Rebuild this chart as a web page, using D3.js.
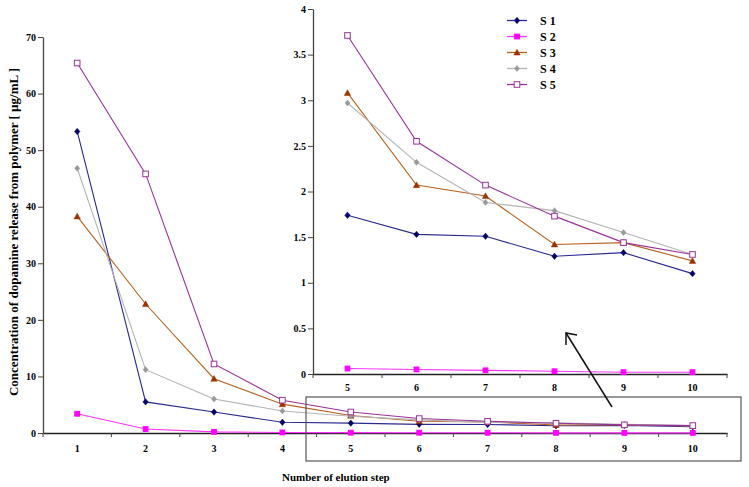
<!DOCTYPE html>
<html><head><meta charset="utf-8">
<script src="https://cdn.jsdelivr.net/npm/d3@7"></script>
<style>
body{margin:0;background:#fff;}
svg text{font-family:"Times New Roman","Liberation Serif",serif !important;font-weight:bold;fill:#000;}
</style></head>
<body><svg id="c" width="749" height="487"></svg>
<script>
const steps = [1,2,3,4,5,6,7,8,9,10];
const insetSteps = [5,6,7,8,9,10];
const seriesNames = ["S 1","S 2","S 3","S 4","S 5"];
const s1 = [53.3, 5.5, 3.7, 1.9, 1.74, 1.53, 1.51, 1.29, 1.33, 1.10];
const s2 = [3.4, 0.7, 0.2, 0.1, 0.06, 0.05, 0.04, 0.03, 0.02, 0.02];
const s3 = [38.3, 22.8, 9.6, 5.1, 3.08, 2.07, 1.95, 1.42, 1.44, 1.24];
const s4 = [46.8, 11.2, 6.0, 3.9, 2.97, 2.32, 1.88, 1.79, 1.55, 1.31];
const s5 = [65.4, 45.8, 12.2, 5.8, 3.71, 2.55, 2.07, 1.73, 1.44, 1.31];
const mainYTicks = [0,10,20,30,40,50,60,70];
const insetYTicks = [0,0.5,1,1.5,2,2.5,3,3.5,4];
const yLabel = "Concentration of dopamine release from polymer [ µg/mL ]";
const xLabel = "Number of elution step";

const styles = [
  {line:"#2a2a90", fill:"#000066", stroke:"#000066", shape:"diamond", size:3.2},
  {line:"#ff33ff", fill:"#ff00ff", stroke:"#ff00ff", shape:"square", size:2.4},
  {line:"#b8621f", fill:"#993300", stroke:"#993300", shape:"triangle", size:3.2},
  {line:"#b4b4b4", fill:"#999999", stroke:"#999999", shape:"diamond", size:3},
  {line:"#993399", fill:"#ffffff", stroke:"#993399", shape:"square", size:2.8}
];
const allSeries = [s1,s2,s3,s4,s5];

const svg = d3.select("#c");

function marker(g, st, x, y){
  const s = st.size;
  if(st.shape==="diamond"){
    g.append("path").attr("d",`M${x},${y-s}L${x+s*0.85},${y}L${x},${y+s}L${x-s*0.85},${y}Z`)
      .attr("fill",st.fill).attr("stroke",st.stroke).attr("stroke-width",0.5);
  } else if(st.shape==="square"){
    g.append("rect").attr("x",x-s).attr("y",y-s).attr("width",2*s).attr("height",2*s)
      .attr("fill",st.fill).attr("stroke",st.stroke).attr("stroke-width",1);
  } else {
    g.append("path").attr("d",`M${x},${y-s}L${x+s},${y+s*0.8}L${x-s},${y+s*0.8}Z`)
      .attr("fill",st.fill).attr("stroke",st.stroke).attr("stroke-width",0.5);
  }
}

function drawChart(cfg){
  const g = svg.append("g");
  const x = d3.scaleBand().domain(cfg.cats).range([cfg.x0,cfg.x1]).padding(0);
  const y = d3.scaleLinear().domain([0,cfg.ymax]).range([cfg.y0,cfg.y1]);
  const cx = d => x(d)+x.bandwidth()/2;
  const ya = d3.axisLeft(y).tickValues(cfg.yticks).tickSize(5).tickSizeOuter(0).tickFormat(d=>String(d));
  const yg = g.append("g").attr("transform",`translate(${cfg.x0},0)`).call(ya);
  yg.attr("font-family",null);
  yg.select(".domain").attr("stroke","#444").attr("stroke-width",1.3);
  yg.selectAll(".tick line").attr("stroke","#444");
  yg.selectAll(".tick text").attr("font-size",10).attr("x",-7);
  const xa = d3.axisBottom(x).tickSize(0).tickSizeOuter(0);
  const xg = g.append("g").attr("transform",`translate(0,${cfg.y0})`).call(xa);
  xg.attr("font-family",null);
  xg.select(".domain").attr("stroke","#222").attr("stroke-width",1.3);
  xg.selectAll(".tick text").attr("font-size",10).attr("dy",cfg.xlabDy);
  const edges = cfg.cats.map(c=>x(c)).concat([cfg.x1]);
  g.selectAll(null).data(edges).enter().append("line")
    .attr("x1",d=>d).attr("x2",d=>d).attr("y1",cfg.y0).attr("y2",cfg.y0+4)
    .attr("stroke","#444");
  const line = d3.line().x(d=>cx(d[0])).y(d=>y(d[1]));
  allSeries.forEach((vals,i)=>{
    const pts = steps.map((s,k)=>[s,vals[k]]).filter(p=>cfg.cats.includes(p[0]));
    g.append("path").attr("d",line(pts)).attr("fill","none").attr("stroke",styles[i].line).attr("stroke-width",1.1);
  });
  allSeries.forEach((vals,i)=>{
    steps.forEach((s,k)=>{ if(cfg.cats.includes(s)) marker(g,styles[i],cx(s),y(vals[k])); });
  });
  return g;
}

drawChart({cats:steps, x0:43, x1:727, y0:433, y1:37, ymax:70, yticks:mainYTicks, xlabDy:"1.55em"});

svg.append("rect").attr("x",306).attr("y",397).attr("width",435).attr("height",64)
  .attr("fill","none").attr("stroke","#555").attr("stroke-width",1.2);

drawChart({cats:insetSteps, x0:313, x1:727, y0:374, y1:9, ymax:4, yticks:insetYTicks, xlabDy:"1.35em"});

svg.append("line").attr("x1",612).attr("y1",407).attr("x2",566).attr("y2",333).attr("stroke","#111").attr("stroke-width",1.5);
svg.append("path").attr("d","M577,335L566,333L566,345").attr("fill","none").attr("stroke","#111").attr("stroke-width",1.5);

const lg = svg.append("g");
seriesNames.forEach((n,i)=>{
  const yy = 20.5 + i*16;
  lg.append("line").attr("x1",507).attr("x2",527).attr("y1",yy).attr("y2",yy).attr("stroke",styles[i].line).attr("stroke-width",1.3);
  marker(lg,styles[i],517,yy);
  lg.append("text").attr("x",540).attr("y",yy).attr("dy","0.35em").attr("font-size",12).text(n);
});

svg.append("text").attr("transform","translate(18,232) rotate(-90)").attr("text-anchor","middle")
  .attr("font-size",13).text(yLabel);
svg.append("text").attr("x",282).attr("y",481).attr("font-size",11).text(xLabel);
</script></body></html>
